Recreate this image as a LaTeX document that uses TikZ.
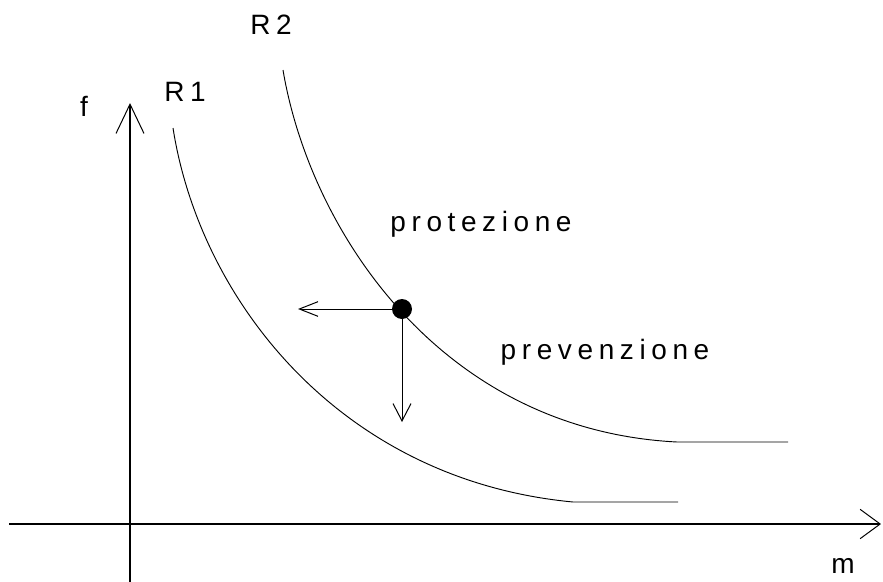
\documentclass[tikz,border=0pt]{standalone}
\usepackage{fontspec}
\newfontfamily\cadfont[LetterSpace=20]{Liberation Sans}
\usetikzlibrary{arrows.meta}
\begin{document}
\begin{tikzpicture}[x=0.75pt,y=-0.75pt,
  axis/.style={line width=1pt},
  curve/.style={line width=0.7pt},
  lbl/.style={font=\cadfont\fontsize{21}{24}\selectfont, inner sep=0pt},
  ]
\useasboundingbox (0,0) rectangle (883,582);
% axes
\coordinate (yb) at (130,582);
\coordinate (yt) at (130,103);
\coordinate (xl) at (9,524);
\coordinate (xr) at (881,524);
\draw[axis,-{Straight Barb[length=22pt,width=21pt,line width=0.75pt]}] (yb) -- (yt);
\draw[axis,-{Straight Barb[length=15pt,width=22pt,line width=0.75pt]}] (xl) -- (xr);
% labels
\node[lbl] (f) at (84,106) {f};
\node[lbl] (m) at (843,566) {m};
\node[lbl] (r1) at (185,92) {R1};
\node[lbl] (r2) at (271,25) {R2};
\node[lbl] (prot) at (481,224) {protezione};
\node[lbl] (prev) at (605,352) {prevenzione};
% curves
\coordinate (a0) at (173,128);
\coordinate (a1) at (573,502);
\coordinate (a2) at (678,502);
\coordinate (b0) at (283,70);
\coordinate (b1) at (677,442);
\coordinate (b2) at (788,442);
\draw[curve] (a0) .. controls (200,300) and (340,480) .. (a1) -- (a2);
\draw[curve] (b0) .. controls (310,230) and (440,430) .. (b1) -- (b2);
% point and arrows
\node[circle,fill=black,inner sep=0pt,minimum size=15] (p) at (402,309) {};
\coordinate (pl) at (298,309);
\coordinate (pd) at (402,422);
\draw[line width=0.75pt,-{Straight Barb[length=14pt,width=11pt,line width=0.75pt]}] (p.center) -- (pl);
\draw[line width=0.75pt,-{Straight Barb[length=13pt,width=13.5pt,line width=0.75pt]}] (p.center) -- (pd);
\end{tikzpicture}
\end{document}
